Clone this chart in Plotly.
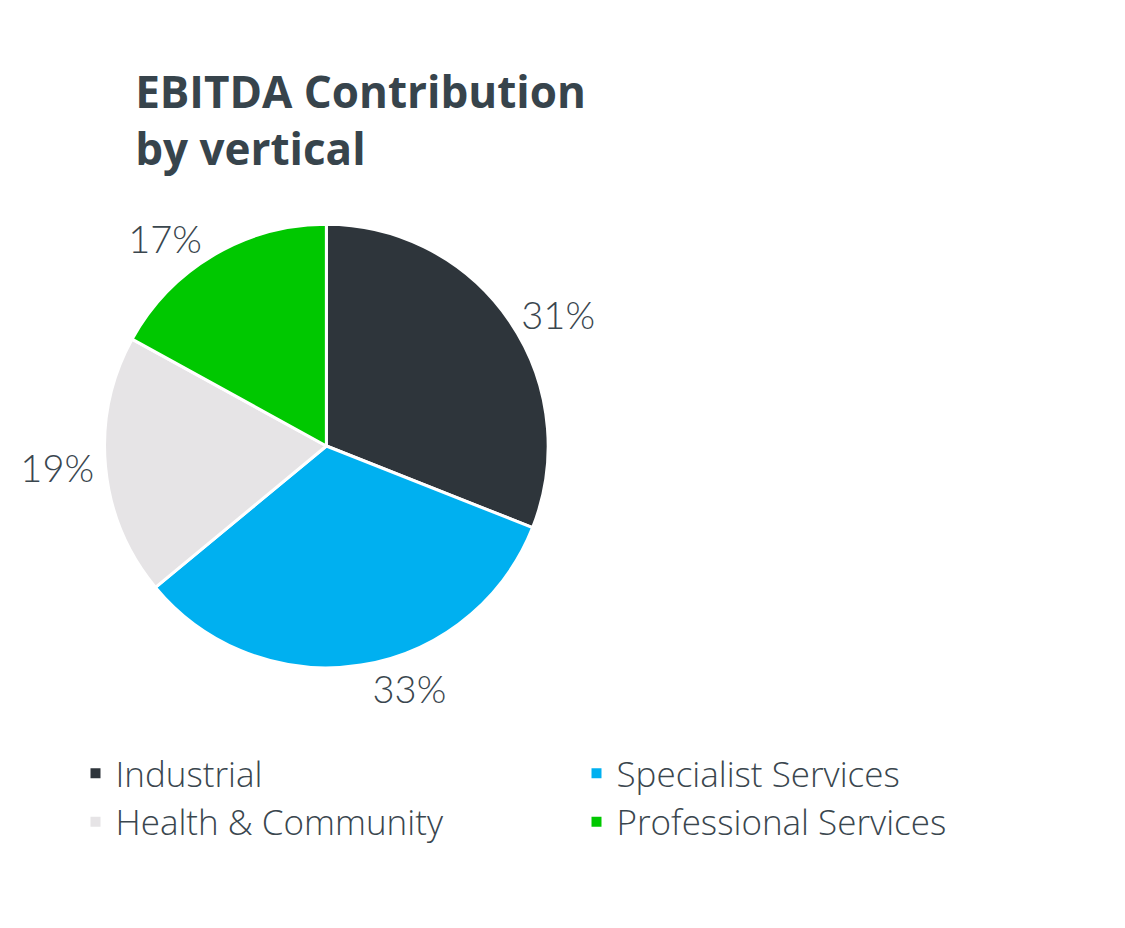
import plotly.graph_objects as go

categories = ["Industrial", "Specialist Services", "Health & Community", "Professional Services"]
values = [31, 33, 19, 17]
colors = ["#2e353b", "#00b0f0", "#e6e4e6", "#00c800"]

title_text = "EBITDA Contribution<br>by vertical"
text_color = "#3a464e"

fig = go.Figure(
    go.Pie(
        labels=categories,
        values=values,
        sort=False,
        direction="clockwise",
        rotation=0,
        marker=dict(colors=colors, line=dict(color="white", width=3)),
        textinfo="percent",
        texttemplate="%{percent:.0%}",
        textposition="outside",
        outsidetextfont=dict(family="Lato", size=38, color=text_color, weight=300),
        domain=dict(x=[0.043, 0.523], y=[0.289, 0.767]),
        hoverinfo="label+percent",
    )
)

fig.update_layout(
    width=1125,
    height=928,
    margin=dict(l=0, r=0, t=0, b=0, autoexpand=False),
    paper_bgcolor="white",
    plot_bgcolor="white",
    title=dict(
        text=title_text,
        x=0.113,
        xanchor="left",
        y=0.892,
        yanchor="top",
        font=dict(family="Open Sans", size=44, color="#37444c", weight=700),
    ),
    showlegend=True,
    legend=dict(
        orientation="h",
        x=0.06,
        xanchor="left",
        y=0.207,
        yanchor="top",
        entrywidth=456,
        entrywidthmode="pixels",
        bgcolor="rgba(0,0,0,0)",
        font=dict(family="Open Sans", size=35, color=text_color, weight=300),
        itemsizing="constant",
    ),
)

fig.write_html("out.html")
